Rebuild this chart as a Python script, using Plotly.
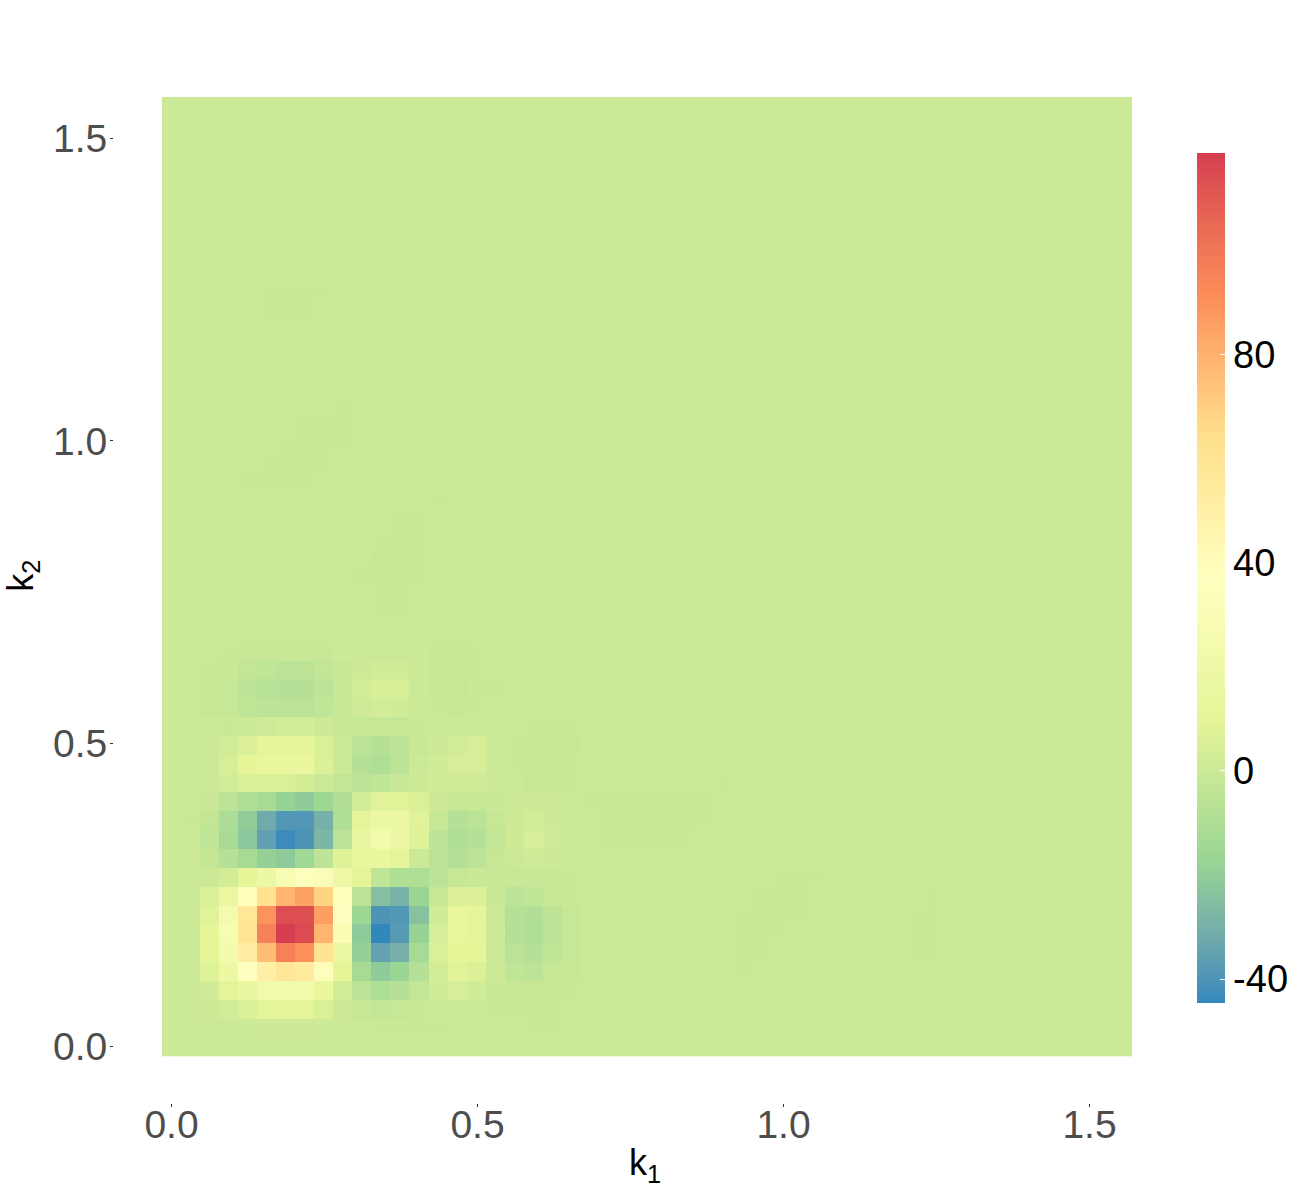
import plotly.graph_objects as go

# Grid of wavenumbers
GRID_SIZE = 51
GRID_STEP = 0.0311
k_values = [round(i * GRID_STEP, 4) for i in range(GRID_SIZE)]

# Values: rows from k2 = 0 upward, columns from k1 = 0
row_01 = [0, 0, 0, .3, .8, 1, 1, 1, .8, .3, 0, -.3, -.3, -.2, -.1, 0, 0, 0, 0, -.2, -.1, 0]
row_02 = [0, 0, 1, 2.5, 5, 9, 9, 9, 5, 1, -1.5, -3, -2, -.5, .3, .5, .3, -.2, -.4, -1, -.3, 0]
row_03 = [0, 0, 2, 9, 15, 22, 24, 22, 14, 3, -6, -10, -8, -3, 2, 4, 2, -.5, -1.5, -1.5, -1.5, -.3]
row_04 = [0, 0, 7, 17, 36, 50, 58, 54, 39, 10, -13, -21, -17, -8, 3, 8, 6, 0, -4, -5, -2, -1]
row_05 = [0, 0, 10, 24, 52, 76, 96, 91, 62, 16, -19, -35, -30, -13, 5, 10, 10, .3, -6, -8, -4, -1.5]
row_06 = [0, 0, 10, 27, 60, 96, 118.8, 115, 79, 30, -21, -44.6, -38, -18, 4, 13, 10, .5, -8, -10, -6, -2]
row_07 = [0, 0, 8, 25, 58, 90, 114, 114, 86, 36, -16, -40, -39, -24, 2, 13, 10, .3, -8, -9, -5, -1.5]
row_08 = [0, 0, 5, 16, 38, 62, 79, 85, 68, 34, -5, -25, -29, -17, -2, 6, 6, -1, -5, -4, -2, -.5]
row_09 = [0, 0, 0, 3, 10, 18, 28, 34, 31, 19, 9, -4, -10, -10, -5, -2, -.5, -1, -1, -1, -.5, -.2]
row_10 = [0, 0, -3, -8, -13, -19, -21, -15, -5, 7, 13, 14, 11, 0, -6, -8, -5, -1.5, 0, 1.5, 1, 0]
row_11 = [0, .3, -4, -12, -22, -36, -43, -40, -28, -5, 15, 23, 18, 7, -5, -10, -8, -3, 1, 4, 1.5, .2]
row_12 = [0, -.3, -3, -11, -20, -32, -39, -39, -30, -10, 11, 18, 16, 8, -2, -8, -6, -2, 1, 2.5, 1, 0]
row_13 = [0, 0, -1, -5, -10, -13, -18, -21, -16, -9, 3, 8, 8, 5, 1, -2, -2, -.5, .7, 1, 1, .2]
row_14 = [0, 0, 0, 3, 5, 5, 5, 3, 0, -3, -5, -4, -1, 1, 2, 2, 1.5, .3, 0, -.7, -.7, -.3]
row_15 = [0, 0, .2, 4, 10, 13, 14, 14, 6, 0, -8, -10, -6, 0, 2, 4, 4, .5, -.5, -1.2, -1.2, -.2]
row_16 = [0, 0, .3, 3, 6, 11, 11, 11, 5, .3, -6, -8, -5, -1, 1, 3, 4, .3, -.5, -1.2, -1.2, -.6]
row_17 = [0, 0, 0, -.3, .5, 1.5, 2.5, 2.5, 1, -.5, -2, -2, -1.5, -.5, 0, .3, .3, 0, 0, -.3, -.3, -.1]
row_18 = [0, 0, -.6, -2, -4, -5, -6, -6, -4, -1, 1.5, 2.5, 2, 0, -.3, -.8, -.2, 0, 0, 0, 0, 0]
row_19 = [0, 0, -.6, -1.5, -5, -7, -8, -8, -5, -1, 2.5, 4.5, 4, .3, -1, -1.5, -.5, -.1, 0, 0, 0, 0]
row_20 = [0, 0, -.3, -1, -3, -4, -5, -5, -3, -.6, 1, 2, 2, .3, -.6, -.8, -.3, 0, 0, 0, 0, 0]
row_21 = [0, 0, 0, -.3, -.7, -1, -1, -1, -.7, 0, .2, .2, 0, 0, -.6, -.8, -.3, 0, 0, 0, 0, 0]
low_rows = {1: row_01, 2: row_02, 3: row_03, 4: row_04, 5: row_05, 6: row_06, 7: row_07,
            8: row_08, 9: row_09, 10: row_10, 11: row_11, 12: row_12, 13: row_13, 14: row_14,
            15: row_15, 16: row_16, 17: row_17, 18: row_18, 19: row_19, 20: row_20, 21: row_21}

# Faint isolated cells: (row, column, value)
faint_cells = [
    (40, 5, -.3), (40, 6, -.3), (40, 7, -.3), (40, 8, -.3), (39, 5, -.3), (39, 6, -.3), (39, 7, -.3),
    (34, 9, -.3), (33, 7, -.3), (33, 8, -.3), (33, 9, -.3), (32, 6, -.3), (32, 7, -.3), (32, 8, -.3), (32, 9, -.3),
    (31, 5, -.3), (31, 6, -.3), (31, 7, -.3), (31, 8, -.3), (30, 4, -.3), (30, 5, -.3), (30, 6, -.3), (30, 7, -.3),
    (29, 14, -.4), (28, 12, -.3), (28, 13, -.3), (27, 11, -.3), (27, 12, -.3), (27, 13, -.3),
    (26, 11, -.6), (26, 12, -.6), (26, 13, -.3), (25, 10, -.4), (25, 11, -.3), (25, 12, -.3), (25, 13, -.3),
    (24, 11, -.4), (24, 12, -.4), (23, 11, -.4), (23, 12, -.4),
    (26, 5, .25), (26, 6, .25), (26, 7, .25), (25, 5, .25), (25, 6, .25), (25, 7, .25),
    (12, 23, -.2), (12, 24, -.2), (12, 25, -.2), (12, 26, -.6), (12, 27, -.2), (12, 28, -.2),
    (11, 23, -.2), (11, 24, -.2), (11, 25, -.2), (11, 26, -.6), (11, 27, -.2),
    (13, 22, -.2), (13, 23, -.2), (13, 24, -.2), (13, 25, -.2), (13, 26, -.2), (13, 27, -.2), (13, 28, -.2), (14, 29, -.4),
    (9, 32, -.35), (9, 33, -.35), (9, 34, -.35), (8, 31, -.35), (8, 32, -.35), (8, 33, -.35),
    (7, 30, -.35), (7, 31, -.35), (7, 32, -.35), (7, 33, -.35), (6, 30, -.35), (6, 31, -.35), (6, 32, -.35),
    (5, 30, -.35), (5, 31, -.35), (4, 30, -.35),
    (8, 40, -.4), (7, 39, -.4), (7, 40, -.4), (6, 39, -.4), (6, 40, -.4), (5, 39, -.4), (5, 40, -.4),
]

tick_values = [0, 0.5, 1, 1.5]
tick_labels = ["0.0", "0.5", "1.0", "1.5"]
bar_ticks = [-40, 0, 40, 80]
bar_labels = ["-40", "0", "40", "80"]
Z_MIN = -44.6
Z_MAX = 118.8
spectral = ["#3288BD", "#99D594", "#E6F598", "#FFFFBF", "#FEE08B", "#FC8D59", "#D53E4F"]


def to_lab(hex_color):
    rgb = [int(hex_color[i:i + 2], 16) / 255 for i in (1, 3, 5)]
    r, g, b = [c / 12.92 if c <= 0.04045 else ((c + 0.055) / 1.055) ** 2.4 for c in rgb]
    xyz = [(0.4124 * r + 0.3576 * g + 0.1805 * b) / 0.95047,
           0.2126 * r + 0.7152 * g + 0.0722 * b,
           (0.0193 * r + 0.1192 * g + 0.9505 * b) / 1.08883]
    fx, fy, fz = [t ** (1 / 3) if t > 0.008856 else 7.787 * t + 16 / 116 for t in xyz]
    return 116 * fy - 16, 500 * (fx - fy), 200 * (fy - fz)


def from_lab(lab):
    fy = (lab[0] + 16) / 116
    fx, fz = fy + lab[1] / 500, fy - lab[2] / 200
    x, y, z = [f ** 3 if f ** 3 > 0.008856 else (f - 16 / 116) / 7.787 for f in (fx, fy, fz)]
    x, z = x * 0.95047, z * 1.08883
    lin = [3.2406 * x - 1.5372 * y - 0.4986 * z,
           -0.9689 * x + 1.8758 * y + 0.0415 * z,
           0.0557 * x - 0.2040 * y + 1.0570 * z]
    out = []
    for c in lin:
        c = max(0.0, min(1.0, c))
        c = 12.92 * c if c <= 0.0031308 else 1.055 * c ** (1 / 2.4) - 0.055
        out.append(round(c * 255))
    return f"rgb({out[0]},{out[1]},{out[2]})"


colorscale = []
STEPS = 6
segments = len(spectral) - 1
for s in range(segments):
    a, b = to_lab(spectral[s]), to_lab(spectral[s + 1])
    for j in range(STEPS + (1 if s == segments - 1 else 0)):
        t = j / STEPS
        colorscale.append([(s + t) / segments, from_lab([a[i] + (b[i] - a[i]) * t for i in range(3)])])

z = [[0.0] * GRID_SIZE for _ in range(GRID_SIZE)]
for r, values in low_rows.items():
    z[r][:len(values)] = values
for r, c, v in faint_cells:
    z[r][c] = v

fig = go.Figure(go.Heatmap(
    x=k_values, y=k_values, z=z, zmin=Z_MIN, zmax=Z_MAX, colorscale=colorscale,
    zsmooth=False, hoverongaps=False,
    colorbar=dict(
        thickness=28, thicknessmode="pixels", len=850, lenmode="pixels",
        x=1.0639, xanchor="left", y=0.5219, yanchor="middle", xpad=0, ypad=0,
        outlinewidth=0, borderwidth=0, tickmode="array", tickvals=bar_ticks, ticktext=bar_labels,
        ticks="inside", ticklen=5, tickwidth=1, tickcolor="white",
        tickfont=dict(family="Liberation Sans", size=38, color="black"),
    ),
))

axis_style = dict(
    tickmode="array", tickvals=tick_values, ticktext=tick_labels,
    ticks="outside", ticklen=3, tickwidth=1, tickcolor="#333333",
    tickfont=dict(family="Liberation Sans", size=39, color="#4D4D4D"),
    showgrid=False, zeroline=False, showline=False, automargin=False,
)
fig.update_xaxes(range=[-0.09395, 1.5694], ticklabelstandoff=-16, **axis_style)
fig.update_yaxes(range=[-0.0929, 1.5677], ticklabelstandoff=-5, **axis_style)

title_font = dict(family="Liberation Sans", size=36, color="black")
fig.add_annotation(text="k<sub>1</sub>", xref="paper", yref="paper", x=0.5216, y=-0.0616,
                   showarrow=False, font=title_font, xanchor="center", yanchor="middle")
fig.add_annotation(text="k<sub>2</sub>", xref="paper", yref="paper", x=-0.0895, y=0.5239,
                   showarrow=False, font=title_font, textangle=-90, xanchor="center", yanchor="middle")
fig.update_layout(
    width=1300, height=1200,
    margin=dict(l=114, r=168, t=97, b=97, autoexpand=False),
    paper_bgcolor="white", plot_bgcolor="white", showlegend=False,
)
fig.write_html("out.html", config={"displayModeBar": False},
               post_script="document.body.style.margin='0';document.documentElement.style.overflow='hidden';")
